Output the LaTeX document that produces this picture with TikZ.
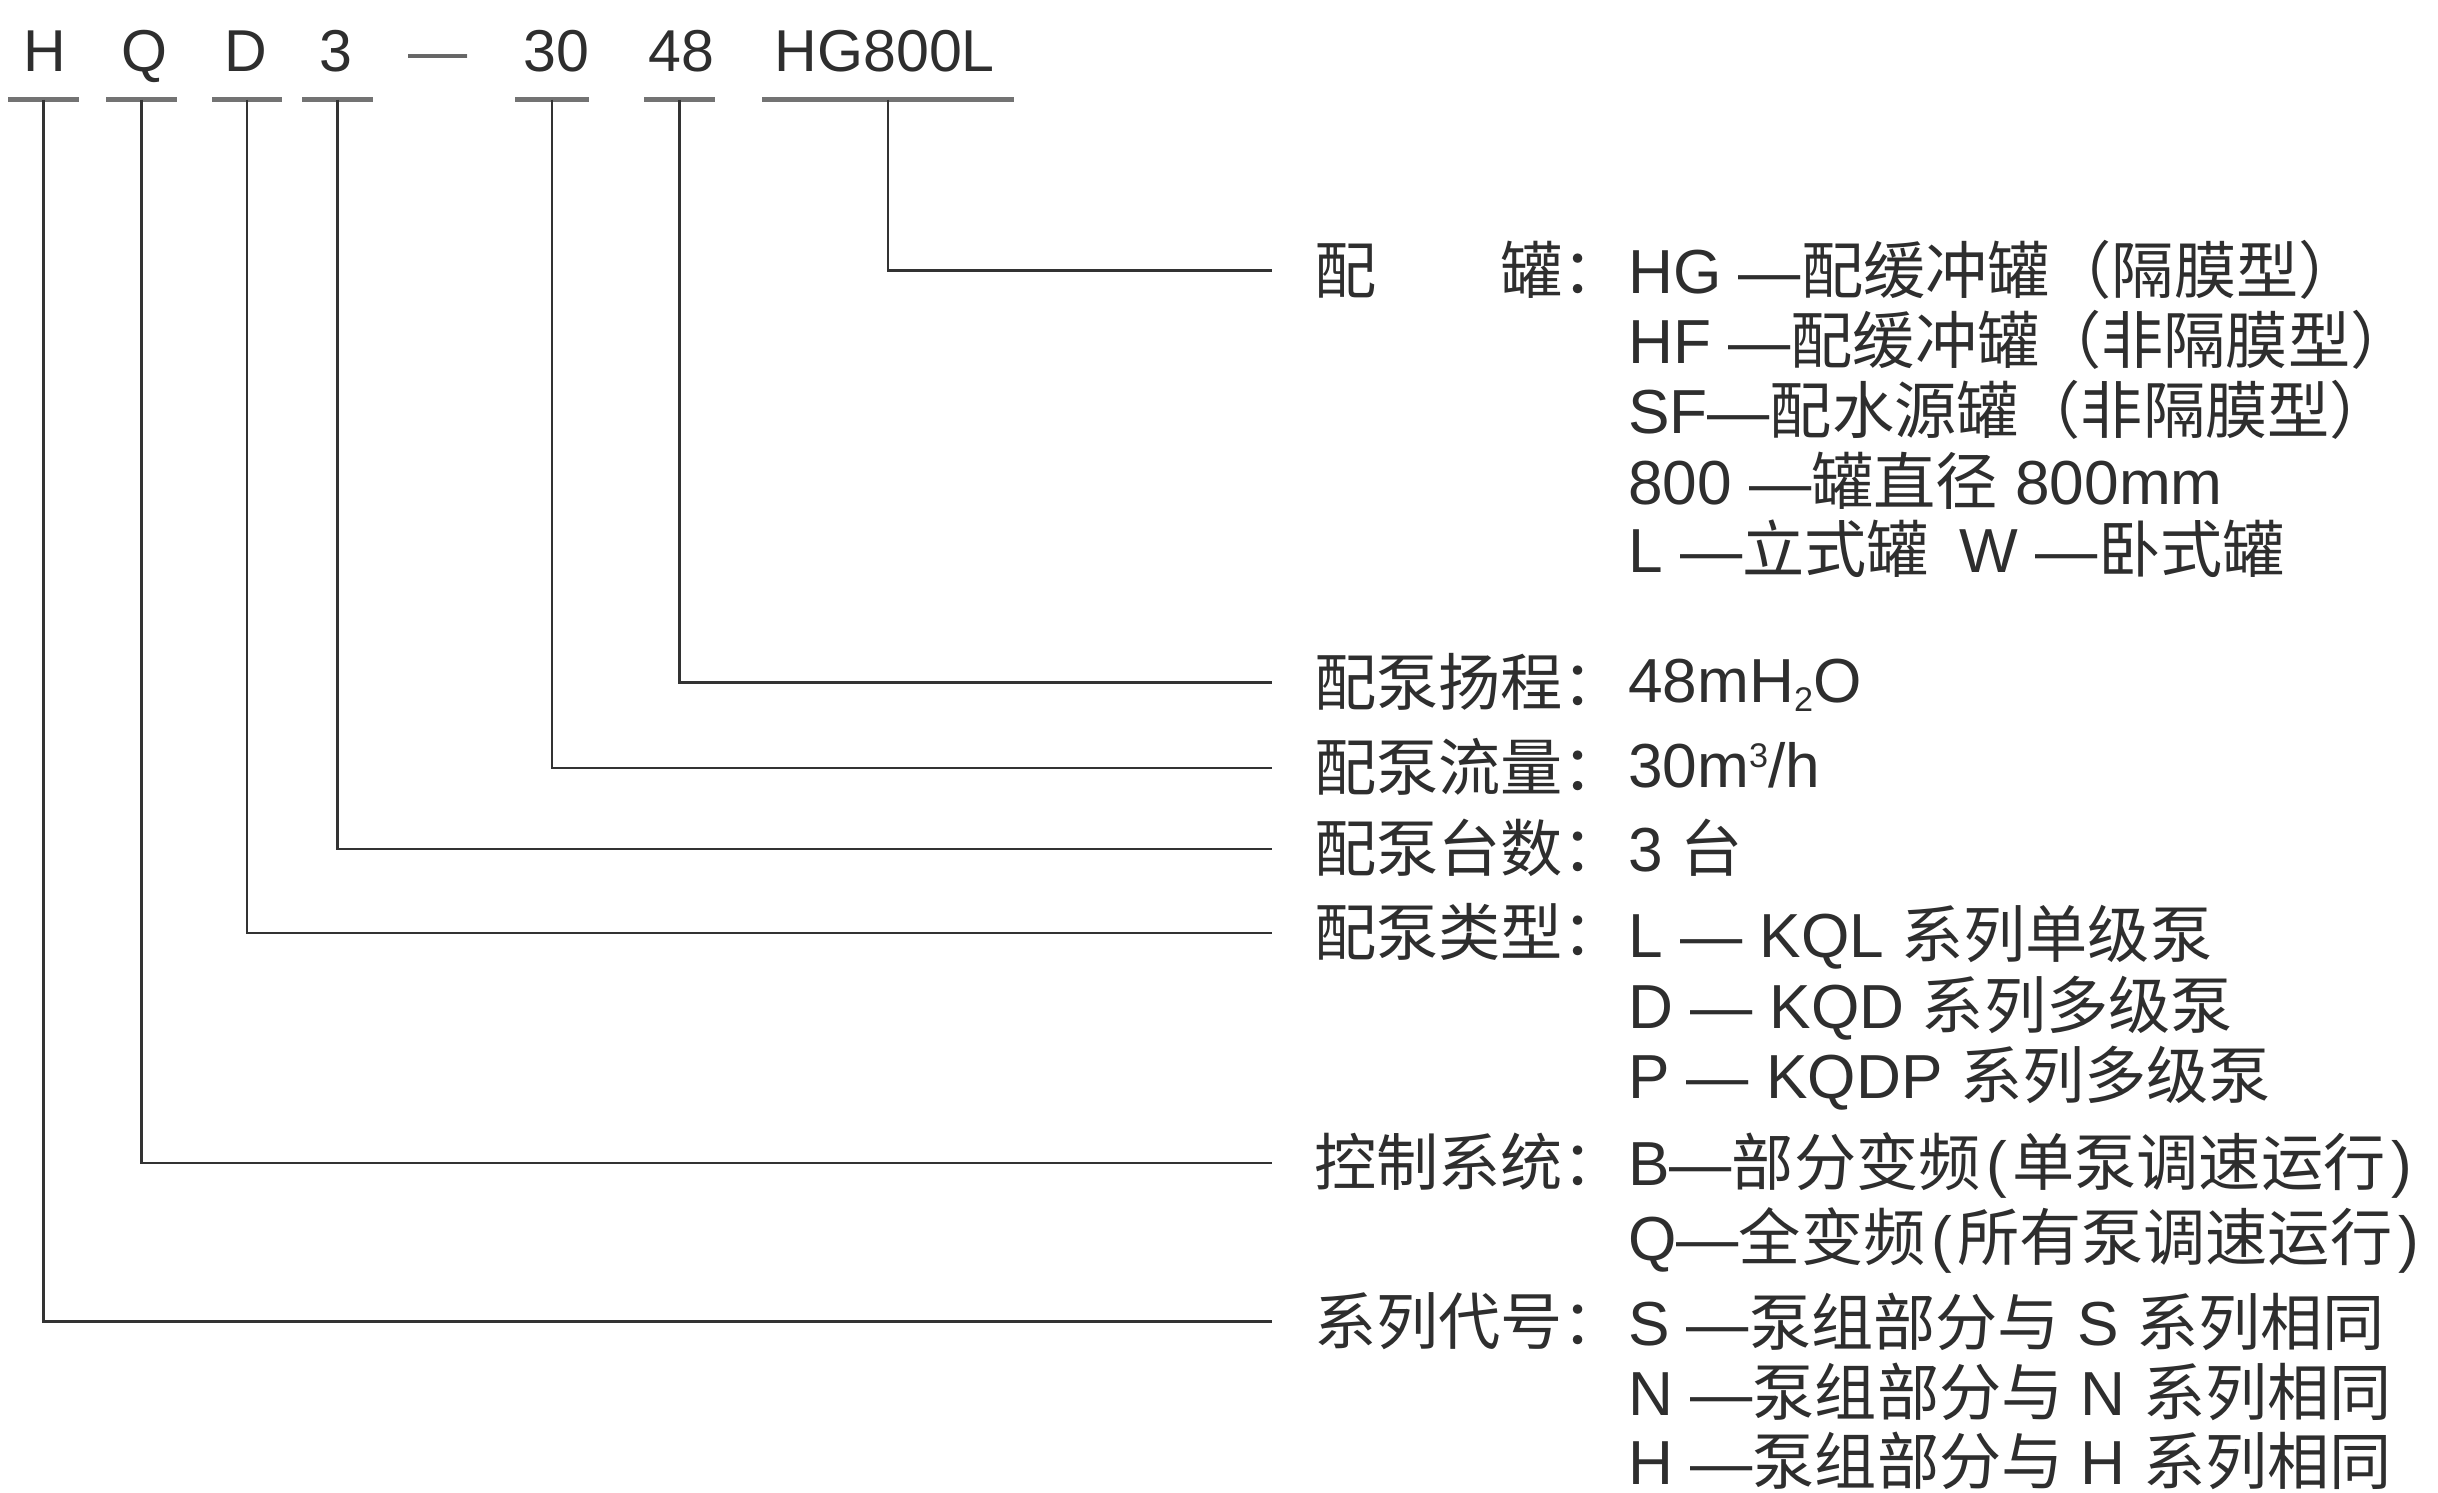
\documentclass[tikz,border=0pt]{standalone}
\usepackage{fontspec}
\setmainfont{Liberation Sans}
\newfontfamily\cjk{Noto Sans CJK SC}
\newcommand\zh[1]{{\cjk #1}}
\newcommand\subtwo{\raisebox{-6pt}{\fontsize{22}{22}\selectfont 2}}
\newcommand\supthree{\raisebox{13pt}{\fontsize{22}{22}\selectfont 3}}
\begin{document}
\begin{tikzpicture}[x=1pt,y=-1pt,
  every node/.style={text=black!82},
  code/.style={font=\fontsize{38}{38}\selectfont, inner sep=0pt, anchor=base},
  ulbar/.style={fill=black!55, inner sep=0pt, minimum height=2.6pt},
  lab/.style={font=\cjk\fontsize{40}{40}\selectfont, anchor=west, inner xsep=0pt, inner ysep=0pt, text height=33pt, text depth=4pt},
  val/.style={font=\fontsize{40}{40}\selectfont, anchor=west, inner xsep=0pt, inner ysep=0pt, text height=33pt, text depth=4pt},
  conn/.style={draw=black!80, line width=1.5pt}]
\useasboundingbox (0,0) rectangle (1568,960);
\fill[white] (0,0) rectangle (1568,960);

% model code
\node[code] (cH) at (29,46) {H};
\node[code] (cQ) at (93,46) {Q};
\node[code] (cD) at (158,46) {D};
\node[code] (c3) at (216,46) {3};
\node[code, text=black!60] (cdash) at (282,46) {—};
\node[code] (c30) at (358,46) {30};
\node[code] (c48) at (438,46) {48};
\node[code] (cHG) at (569,46) {HG800L};

% underlines
\node[ulbar, minimum width=46pt] (uH) at (28,64) {};
\node[ulbar, minimum width=46pt] (uQ) at (91,64) {};
\node[ulbar, minimum width=45pt] (uD) at (159,64) {};
\node[ulbar, minimum width=46pt] (u3) at (217,64) {};
\node[ulbar, minimum width=48pt] (u30) at (355,64) {};
\node[ulbar, minimum width=46pt] (u48) at (437,64) {};
\node[ulbar, minimum width=162pt] (uHG) at (571,64) {};

% labels
\node[lab] (lHG) at (845,174) {配　　罐：};
\node[lab] (l48) at (845,439) {配泵扬程：};
\node[lab] (l30) at (845,494) {配泵流量：};
\node[lab] (l3)  at (845,546) {配泵台数：};
\node[lab] (lD)  at (845,600) {配泵类型：};
\node[lab] (lQ)  at (845,748) {控制系统：};
\node[lab] (lH)  at (845,850) {系列代号：};

% connectors
\draw[conn] (uHG.center) |- ([xshift=-27pt]lHG.west);
\draw[conn] (u48.center) |- ([xshift=-27pt]l48.west);
\draw[conn] (u30.center) |- ([xshift=-27pt]l30.west);
\draw[conn] (u3.center)  |- ([xshift=-27pt]l3.west);
\draw[conn] (uD.center)  |- ([xshift=-27pt]lD.west);
\draw[conn] (uQ.center)  |- ([xshift=-27pt]lQ.west);
\draw[conn] (uH.center)  |- ([xshift=-27pt]lH.west);

% values
\node[val] (v1)  at (1047,174) {HG —\zh{配缓冲罐（隔膜型）}};
\node[val] (v2)  at (1047,219) {HF —\zh{配缓冲罐（非隔膜型）}};
\node[val] (v3)  at (1047,264) {SF—\zh{配水源罐（非隔膜型）}};
\node[val] (v4)  at (1047,310) {800 —\zh{罐直径} 800mm};
\node[val] (v5)  at (1047,354) {L —\zh{立式罐}\hspace{20pt}W —\zh{卧式罐}};
\node[val] (v6)  at (1047,437) {48mH\subtwo O};
\node[val] (v7)  at (1047,492) {30m\supthree/h};
\node[val] (v8)  at (1047,546) {3 \zh{台}};
\node[val] (v9)  at (1047,601) {L — KQL \zh{系列单级泵}};
\node[val] (v10) at (1047,647) {D — KQD \zh{系列多级泵}};
\node[val] (v11) at (1047,692) {P — KQDP \zh{系列多级泵}};
\node[val] (v12) at (1047,748) {B—\zh{部分变频}\hspace{4pt}(\hspace{3pt}\zh{单泵调速运行}\hspace{4pt})};
\node[val] (v13) at (1047,796) {Q—\zh{全变频}\hspace{4pt}(\hspace{3pt}\zh{所有泵调速运行}\hspace{4pt})};
\node[val] (v14) at (1047,851) {S —\zh{泵组部分与} S \zh{系列相同}};
\node[val] (v15) at (1047,896) {N —\zh{泵组部分与} N \zh{系列相同}};
\node[val] (v16) at (1047,940) {H —\zh{泵组部分与} H \zh{系列相同}};
\end{tikzpicture}
\end{document}
